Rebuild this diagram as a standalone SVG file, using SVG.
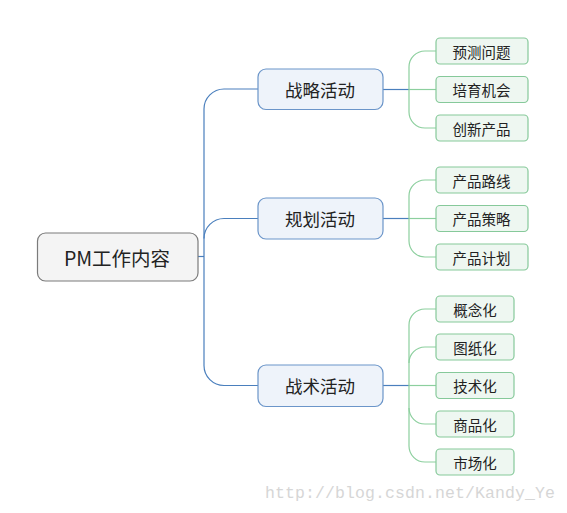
<svg xmlns="http://www.w3.org/2000/svg" width="567" height="513" viewBox="0 0 567 513">
<style>
.txt{font-family:"Noto Sans CJK SC","Noto Sans",sans-serif;fill:#222;text-anchor:middle;dominant-baseline:central}
.root rect{fill:#f4f4f4;stroke:#7b7b7b;stroke-width:1.2}
.main rect{fill:#eef3fa;stroke:#6b95c9;stroke-width:1.2}
.leaf rect{fill:#eef7f1;stroke:#86c99a;stroke-width:1.2}
.blue{fill:none;stroke:#4a7fbd;stroke-width:1.2}
.green{fill:none;stroke:#8ccf9e;stroke-width:1.2}
.wm{font-family:"Liberation Mono",monospace;font-size:16.5px;fill:#d6d6d6}
</style>
<rect width="567" height="513" fill="#ffffff"/>
<g id="connectors">
<path class="blue" d="M198,256.5 H204"/>
<path class="blue" d="M258,89 H224 A20 20 0 0 0 204 109 V365.5 A20 20 0 0 0 224 385.5 H258"/>
<path class="blue" d="M204,238.5 A20 20 0 0 1 224 218.5 H258"/>
<path class="blue" d="M383,89.5 H409"/>
<path class="blue" d="M383,218.5 H409"/>
<path class="blue" d="M383,385.5 H409"/>
<path class="green" d="M436,51 H425 A16 16 0 0 0 409 67 V112 A16 16 0 0 0 425 128 H436"/>
<path class="green" d="M409,89.5 H436"/>
<path class="green" d="M436,180 H425 A16 16 0 0 0 409 196 V241 A16 16 0 0 0 425 257 H436"/>
<path class="green" d="M409,218.5 H436"/>
<path class="green" d="M436,309 H425 A16 16 0 0 0 409 325 V446 A16 16 0 0 0 425 462 H436"/>
<path class="green" d="M436,347 H425 A16 16 0 0 0 409 363"/>
<path class="green" d="M436,424 H425 A16 16 0 0 1 409 408"/>
<path class="green" d="M409,385.5 H436"/>
</g>
<g id="root" class="root"><rect x="37.5" y="233" width="160.5" height="48" rx="8"/><text class="txt" x="117" y="257" font-size="19.5">PM工作内容</text></g>
<g id="n-strategy" class="main"><rect x="258" y="69" width="125" height="40.5" rx="8"/><text class="txt" x="320" y="89" font-size="17.5">战略活动</text></g>
<g id="n-planning" class="main"><rect x="258" y="198" width="125" height="41" rx="8"/><text class="txt" x="320" y="218.5" font-size="17.5">规划活动</text></g>
<g id="n-tactics" class="main"><rect x="258" y="365" width="125" height="41.5" rx="8"/><text class="txt" x="320" y="385.5" font-size="17.5">战术活动</text></g>
<g id="l1" class="leaf"><rect x="436" y="38" width="92" height="26" rx="4"/><text class="txt" x="481.5" y="51" font-size="14.5">预测问题</text></g>
<g id="l2" class="leaf"><rect x="436" y="76.5" width="92" height="26" rx="4"/><text class="txt" x="481.5" y="89.5" font-size="14.5">培育机会</text></g>
<g id="l3" class="leaf"><rect x="436" y="115" width="92" height="26" rx="4"/><text class="txt" x="481.5" y="128" font-size="14.5">创新产品</text></g>
<g id="l4" class="leaf"><rect x="436" y="167" width="92" height="26" rx="4"/><text class="txt" x="481.5" y="180" font-size="14.5">产品路线</text></g>
<g id="l5" class="leaf"><rect x="436" y="205.5" width="92" height="26" rx="4"/><text class="txt" x="481.5" y="218.5" font-size="14.5">产品策略</text></g>
<g id="l6" class="leaf"><rect x="436" y="244" width="92" height="26" rx="4"/><text class="txt" x="481.5" y="257" font-size="14.5">产品计划</text></g>
<g id="l7" class="leaf"><rect x="436" y="296" width="78" height="26" rx="4"/><text class="txt" x="475" y="309" font-size="14.5">概念化</text></g>
<g id="l8" class="leaf"><rect x="436" y="334" width="78" height="26" rx="4"/><text class="txt" x="475" y="347" font-size="14.5">图纸化</text></g>
<g id="l9" class="leaf"><rect x="436" y="372.5" width="78" height="26" rx="4"/><text class="txt" x="475" y="385.5" font-size="14.5">技术化</text></g>
<g id="l10" class="leaf"><rect x="436" y="411" width="78" height="26" rx="4"/><text class="txt" x="475" y="424" font-size="14.5">商品化</text></g>
<g id="l11" class="leaf"><rect x="436" y="449" width="78" height="26" rx="4"/><text class="txt" x="475" y="462" font-size="14.5">市场化</text></g>
<text class="wm" x="265" y="498" textLength="290">http://blog.csdn.net/Kandy_Ye</text>
</svg>
